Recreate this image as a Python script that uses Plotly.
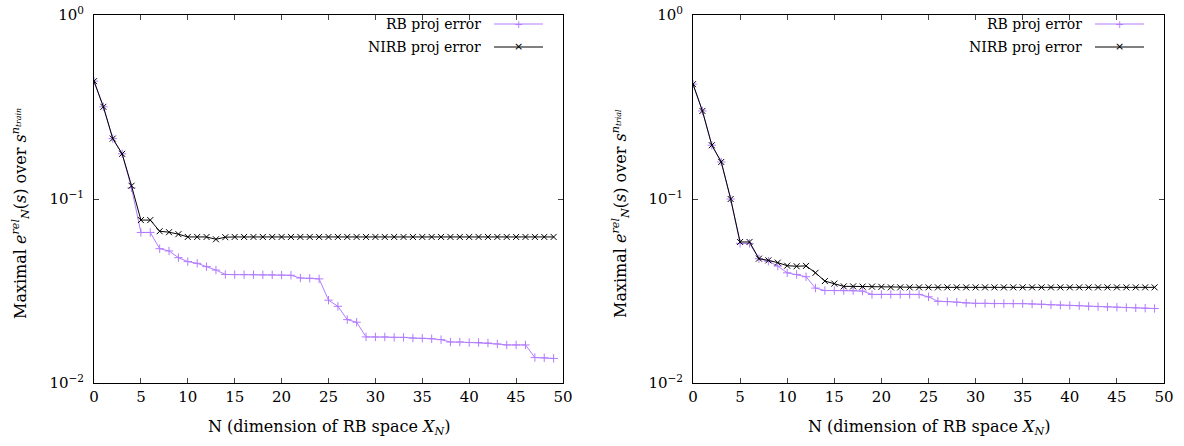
import plotly.graph_objects as go
from plotly.subplots import make_subplots

# data
N = list(range(50))

rb_train = [0.437, 0.317, 0.213, 0.176, 0.115, 0.0658, 0.0658, 0.0537, 0.0522, 0.0480,
            0.0457, 0.0447, 0.0429, 0.0411, 0.0389, 0.0388, 0.0388, 0.0388, 0.0387, 0.0387,
            0.0386, 0.0385, 0.0372, 0.0371, 0.0368, 0.0282, 0.0261, 0.0221, 0.0214, 0.0178,
            0.0178, 0.0178, 0.0177, 0.0177, 0.01755, 0.0175, 0.0174, 0.0172, 0.0167, 0.0167,
            0.0166, 0.0166, 0.0165, 0.0163, 0.0161, 0.0161, 0.0161, 0.01375, 0.0137, 0.0136]
nirb_train = [0.437, 0.317, 0.213, 0.176, 0.118, 0.0768, 0.0768, 0.0668, 0.0660, 0.0644,
              0.0622, 0.0622, 0.0622, 0.0604, 0.0620] + [0.0622] * 35

rb_trial = [0.421, 0.301, 0.196, 0.159, 0.100, 0.0574, 0.0574, 0.0474, 0.0459, 0.0432,
            0.0397, 0.0389, 0.0378, 0.0328, 0.0318, 0.0318, 0.0318, 0.0318, 0.0316, 0.0303,
            0.0303, 0.0303, 0.0303, 0.0303, 0.0303, 0.0294, 0.0278, 0.0277, 0.0275, 0.0272,
            0.0271, 0.0271, 0.0270, 0.0270, 0.0270, 0.0270, 0.0269, 0.0268, 0.0266, 0.0265,
            0.0264, 0.0263, 0.0261, 0.0260, 0.0259, 0.0258, 0.0257, 0.0256, 0.0255, 0.0254]
nirb_trial = [0.421, 0.301, 0.196, 0.159, 0.100, 0.0584, 0.0584, 0.0474, 0.0464, 0.0451,
              0.0434, 0.0431, 0.0433, 0.0397, 0.0358, 0.0347, 0.0335, 0.0335, 0.0334, 0.0334,
              0.0333] + [0.0331] * 29

x_ticks = list(range(0, 51, 5))
y_tickvals = [1, 0.1, 0.01]
y_ticktext = ['10<sup>0</sup>', '10<sup>\u22121</sup>', '10<sup>\u22122</sup>']

PURPLE = '#b27cff'
FONT = 'DejaVu Serif'
PLOT_H = 368  # pixel height of the plotting area

fig = make_subplots(rows=1, cols=2)

panels = [(1, rb_train, nirb_train), (2, rb_trial, nirb_trial)]
for col, rb, nirb in panels:
    fig.add_trace(go.Scatter(
        x=N, y=rb, mode='lines+markers', name='RB proj error',
        line=dict(color=PURPLE, width=1),
        marker=dict(symbol='cross-thin', size=6, line=dict(color=PURPLE, width=1)),
        showlegend=False), row=1, col=col)
    fig.add_trace(go.Scatter(
        x=N, y=nirb, mode='lines+markers', name='NIRB proj error',
        line=dict(color='black', width=1),
        marker=dict(symbol='x-thin', size=6, line=dict(color='black', width=1)),
        showlegend=False), row=1, col=col)

domains = [[94 / 1184, 563 / 1184], [693 / 1184, 1164 / 1184]]
for i, dom in enumerate(domains, start=1):
    fig.update_xaxes(domain=dom, range=[0, 50], tickvals=x_ticks, ticks='inside', ticklen=5,
                     mirror='ticks', showline=True, linecolor='black', linewidth=1,
                     showgrid=False, zeroline=False, automargin=False,
                     tickfont=dict(size=15, family=FONT, color='black'), row=1, col=i)
    fig.update_yaxes(type='log', range=[-2, 0], tickvals=y_tickvals, ticktext=y_ticktext,
                     ticks='inside', ticklen=5, mirror='ticks', showline=True,
                     linecolor='black', linewidth=1, showgrid=False, zeroline=False,
                     automargin=False, ticklabelstandoff=6,
                     tickfont=dict(size=15, family=FONT, color='black'), row=1, col=i)

# axis titles as annotations
ylabels = ['Maximal <i>e</i><sup><i>rel</i></sup><sub><i>N</i></sub>(<i>s</i>) over <i>s</i><sup><i>n<sub>train</sub></i></sup>',
           'Maximal <i>e</i><sup><i>rel</i></sup><sub><i>N</i></sub>(<i>s</i>) over <i>s</i><sup><i>n<sub>trial</sub></i></sup>']
ylab_x = [20 / 1184, 620 / 1184]
for i, dom in enumerate(domains):
    xc = (dom[0] + dom[1]) / 2
    fig.add_annotation(text='N (dimension of RB space <i>X</i><sub><i>N</i></sub>)',
                       x=xc, y=-(427 - 383) / PLOT_H, xref='paper', yref='paper',
                       showarrow=False, xanchor='center', yanchor='middle',
                       font=dict(size=16, family=FONT, color='black'))
    fig.add_annotation(text=ylabels[i], x=ylab_x[i], y=(383 - 214) / PLOT_H,
                       xref='paper', yref='paper', textangle=-90, showarrow=False,
                       xanchor='center', yanchor='middle',
                       font=dict(size=16, family=FONT, color='black'))

    # gnuplot-style key: text then sample line
    right = dom[1]
    for k, (label, color, sym) in enumerate([('RB proj error', PURPLE, '+'),
                                             ('NIRB proj error', 'black', '\u00d7')]):
        yk = 1 - (9 + 23 * k) / PLOT_H
        fig.add_annotation(text=label, x=right - 80 / 1184, y=yk, xref='paper', yref='paper',
                           xanchor='right', yanchor='middle', showarrow=False,
                           font=dict(size=14, family=FONT, color='black'))
        fig.add_shape(type='line', xref='paper', yref='paper',
                      x0=right - 69 / 1184, x1=right - 20 / 1184, y0=yk, y1=yk,
                      line=dict(color=color, width=1))
        fig.add_annotation(text=sym, x=right - 44.5 / 1184, y=yk, xref='paper', yref='paper',
                           xanchor='center', yanchor='middle', showarrow=False,
                           font=dict(size=11, color=color, family='DejaVu Sans'))

fig.update_layout(width=1184, height=446, margin=dict(l=0, r=0, t=15, b=63),
                  paper_bgcolor='white', plot_bgcolor='white',
                  font=dict(family=FONT, color='black'))

# drop the browser's default body margin so the figure sits at the page corner
fig.write_html('out.html', config={'displayModeBar': False},
               post_script="document.body.style.margin='0';")
